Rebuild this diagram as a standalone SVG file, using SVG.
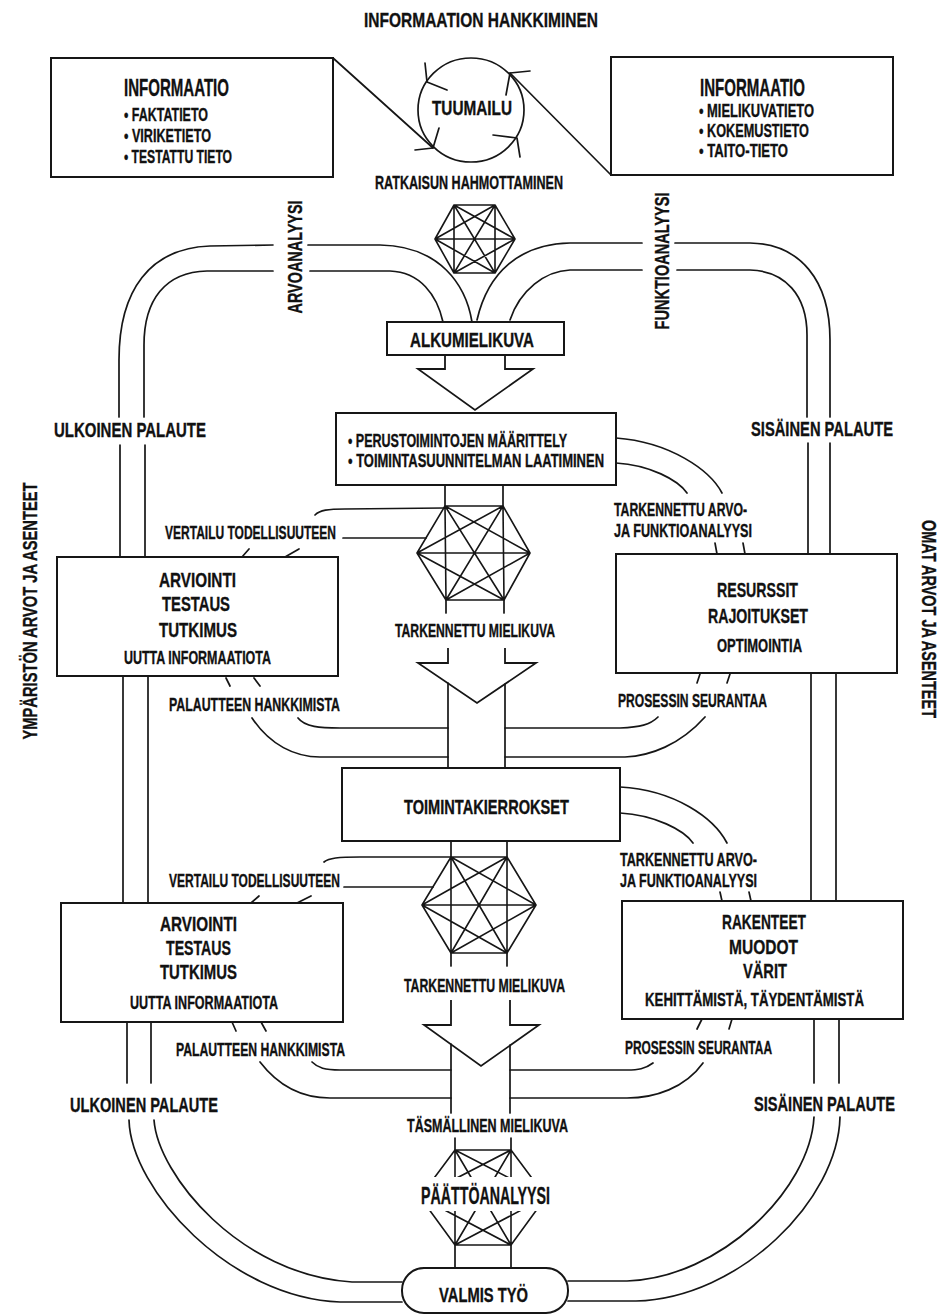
<svg xmlns="http://www.w3.org/2000/svg" width="949" height="1316" viewBox="0 0 949 1316">
<defs>
<style>
.ln{fill:none;stroke:#161616;stroke-width:1.7;stroke-linecap:round;stroke-linejoin:round}
.hx{fill:none;stroke:#161616;stroke-width:1.6;stroke-linejoin:round}
.bx{fill:#fff;stroke:#161616;stroke-width:2}
.ar{fill:#fff;stroke:#161616;stroke-width:1.8;stroke-linejoin:miter}
text{font-family:"Liberation Sans Narrow","Liberation Sans",Arial,sans-serif;font-weight:bold;fill:#111;stroke:#111;stroke-width:0.35}
.s{font-size:18px}
.m{font-size:21px}
.f{font-size:20px}
.k{font-size:21px}
.l{font-size:23px}
</style>
<clipPath id="cut"><rect x="380" y="1140" width="200" height="37"/><rect x="380" y="1211" width="200" height="40"/></clipPath>
</defs>
<rect width="949" height="1316" fill="#fff"/>

<g id="connectors">
  <path class="ln" d="M333 58 L433 148"/>
  <path class="ln" d="M510 73 L611 175"/>
  <path class="ln" d="M308 245 L380 245 C440 246 466 285 472 322"/>
  <path class="ln" d="M310 271 L390 271 C420 272 437 295 443 322"/>
  <path class="ln" d="M273 245 L210 246 C150 248 119 290 119 360 V417"/>
  <path class="ln" d="M273 271 L207 271 C165 272 144 300 144 345 V417"/>
  <path class="ln" d="M120 445 V557 M145 445 V557"/>
  <path class="ln" d="M123 676 V903 M148 676 V903"/>
  <path class="ln" d="M127 1022 V1083 M151 1022 V1083"/>
  <path class="ln" d="M129 1120 C131 1190 230 1298 340 1302 L402 1302"/>
  <path class="ln" d="M154 1120 C158 1175 240 1275 352 1282 L402 1282"/>
  <path class="ln" d="M477 320 C488 272 520 244 570 243 L642 243"/>
  <path class="ln" d="M510 320 C520 290 545 271 570 270 L642 270"/>
  <path class="ln" d="M675 243 L750 243 C800 244 830 280 830 340 V417"/>
  <path class="ln" d="M677 270 L750 270 C785 271 807 295 807 335 V417"/>
  <path class="ln" d="M808 443 V554 M830 443 V554"/>
  <path class="ln" d="M811 673 V900 M836 673 V900"/>
  <path class="ln" d="M814 1019 V1083 M839 1019 V1083"/>
  <path class="ln" d="M840 1117 C838 1200 740 1298 636 1301 L568 1301"/>
  <path class="ln" d="M814 1117 C810 1190 720 1278 627 1281 L568 1281"/>
  <path class="ar" d="M445 355 V369 H418 L475 410 L533 369 H505 V355"/>
  <path class="ln" d="M445 485 V506 M503 485 V506"/>
  <path class="ln" d="M446 600 V613 M504 600 V613"/>
  <path class="ar" d="M448 648 V663 H418 L477 703 L536 663 H505 V648"/>
  <path class="ln" d="M448 683 V768 M505 684 V768"/>
  <path class="ln" d="M451 841 V857 M507 841 V857"/>
  <path class="ln" d="M451 953 V966 M507 953 V966"/>
  <path class="ar" d="M451 1000 V1025 H424 L481 1066 L539 1025 H510 V1000"/>
  <path class="ln" d="M451 1044 V1113 M510 1045 V1113"/>
  <path class="ln" d="M455 1138 V1150 M511 1138 V1150"/>
  <path class="ln" d="M455 1245 V1268 M511 1245 V1268"/>
  <path class="ln" d="M616 438 C670 442 710 470 722 493"/>
  <path class="ln" d="M616 463 C650 465 678 480 687 493"/>
  <path class="ln" d="M620 787 C675 790 714 818 727 843"/>
  <path class="ln" d="M620 813 C655 815 684 830 693 843"/>
  <path class="ln" d="M315 515 C320 510 328 509 345 509 L444 508"/>
  <path class="ln" d="M343 538 L426 538"/>
  <path class="ln" d="M324 862 C329 858 338 857 360 857 L451 857"/>
  <path class="ln" d="M344 887 L433 887"/>
  <path class="ln" d="M298 718 C305 727 320 728 340 728 L448 728"/>
  <path class="ln" d="M252 718 C270 745 295 757 320 757 L448 757"/>
  <path class="ln" d="M658 717 C650 725 640 727 620 728 L505 728"/>
  <path class="ln" d="M705 717 C680 745 650 756 625 757 L505 757"/>
  <path class="ln" d="M312 1062 C318 1068 325 1070 340 1070 L451 1070"/>
  <path class="ln" d="M260 1062 C280 1088 305 1098 330 1098 L451 1098"/>
  <path class="ln" d="M653 1063 C645 1069 638 1070 627 1070 L510 1070"/>
  <path class="ln" d="M703 1063 C685 1088 655 1098 627 1098 L510 1098"/>
  <path class="ln" d="M242 557 L249 549 M285 557 L299 549 M226 678 L230 686 M254 678 L260 686"/>
  <path class="ln" d="M251 903 L259 896 M297 903 L311 896 M232 1022 L236 1031 M261 1022 L266 1031"/>
  <path class="ln" d="M715 543 L717 554 M743 543 L745 554 M700 674 L697 683 M730 674 L727 683"/>
  <path class="ln" d="M720 892 L722 901 M749 892 L751 901 M702 1019 L697 1029 M732 1019 L729 1029"/>
</g>

<g id="title">
  <text class="m" x="364" y="27" textLength="234" lengthAdjust="spacingAndGlyphs">INFORMAATION HANKKIMINEN</text>
</g>

<g id="info-left">
  <rect class="bx" x="51" y="58" width="282" height="119"/>
  <text class="l" x="124" y="96" textLength="105" lengthAdjust="spacingAndGlyphs">INFORMAATIO</text>
  <text class="s" x="124" y="121" textLength="84" lengthAdjust="spacingAndGlyphs">• FAKTATIETO</text>
  <text class="s" x="124" y="142" textLength="87" lengthAdjust="spacingAndGlyphs">• VIRIKETIETO</text>
  <text class="s" x="124" y="163" textLength="108" lengthAdjust="spacingAndGlyphs">• TESTATTU TIETO</text>
</g>

<g id="info-right">
  <rect class="bx" x="611" y="57" width="282" height="118"/>
  <text class="l" x="700" y="96" textLength="105" lengthAdjust="spacingAndGlyphs">INFORMAATIO</text>
  <text class="s" x="699" y="117" textLength="115" lengthAdjust="spacingAndGlyphs">• MIELIKUVATIETO</text>
  <text class="s" x="699" y="137" textLength="110" lengthAdjust="spacingAndGlyphs">• KOKEMUSTIETO</text>
  <text class="s" x="699" y="157" textLength="89" lengthAdjust="spacingAndGlyphs">• TAITO-TIETO</text>
</g>

<g id="tuumailu">
  <ellipse class="ln" cx="471" cy="110" rx="53" ry="52"/>
  <path class="ln" d="M425 63 L427 82 L447 90 M530 71 L510 73 L506 95 M493 135 L517 138 L520 157 M439 128 L433 148 L415 150"/>
  <text class="m" x="432" y="115" textLength="80" lengthAdjust="spacingAndGlyphs">TUUMAILU</text>
</g>

<g id="ratkaisu">
  <text class="s" x="375" y="189" textLength="188" lengthAdjust="spacingAndGlyphs">RATKAISUN HAHMOTTAMINEN</text>
  <path class="hx" d="M454 205 L495 205 L515 239 L495 273 L454 273 L435 239 Z M454 205 L515 239 M454 205 L495 273 M454 205 L454 273 M495 205 L495 273 M495 205 L454 273 M495 205 L435 239 M515 239 L454 273 M515 239 L435 239 M495 273 L435 239"/>
</g>

<g id="analysis-labels">
  <text class="m" transform="translate(294,257) rotate(-90)" x="0" y="7.5" text-anchor="middle" textLength="113" lengthAdjust="spacingAndGlyphs">ARVOANALYYSI</text>
  <text class="m" transform="translate(661,261) rotate(-90)" x="0" y="7.5" text-anchor="middle" textLength="137" lengthAdjust="spacingAndGlyphs">FUNKTIOANALYYSI</text>
</g>

<g id="alkumielikuva">
  <rect class="bx" x="387" y="322" width="177" height="33"/>
  <text class="m" x="410" y="347" textLength="124" lengthAdjust="spacingAndGlyphs">ALKUMIELIKUVA</text>
</g>

<g id="perustoiminnot">
  <rect class="bx" x="336" y="413" width="280" height="72"/>
  <text class="s" x="348" y="447" textLength="219" lengthAdjust="spacingAndGlyphs">• PERUSTOIMINTOJEN MÄÄRITTELY</text>
  <text class="s" x="348" y="467" textLength="256" lengthAdjust="spacingAndGlyphs">• TOIMINTASUUNNITELMAN LAATIMINEN</text>
</g>

<g id="tarkennettu-1">
  <path class="hx" d="M445 506 L503 506 L530 553 L504 600 L446 600 L417 553 Z M445 506 L530 553 M445 506 L504 600 M445 506 L446 600 M503 506 L504 600 M503 506 L446 600 M503 506 L417 553 M530 553 L446 600 M530 553 L417 553 M504 600 L417 553"/>
  <text class="s" x="395" y="637" textLength="160" lengthAdjust="spacingAndGlyphs">TARKENNETTU MIELIKUVA</text>
  <text class="s" x="614" y="516" textLength="133" lengthAdjust="spacingAndGlyphs">TARKENNETTU ARVO-</text>
  <text class="s" x="614" y="537" textLength="138" lengthAdjust="spacingAndGlyphs">JA FUNKTIOANALYYSI</text>
  <text class="s" x="165" y="539" textLength="171" lengthAdjust="spacingAndGlyphs">VERTAILU TODELLISUUTEEN</text>
  <text class="s" x="169" y="711" textLength="171" lengthAdjust="spacingAndGlyphs">PALAUTTEEN HANKKIMISTA</text>
  <text class="s" x="618" y="707" textLength="149" lengthAdjust="spacingAndGlyphs">PROSESSIN SEURANTAA</text>
</g>

<g id="arviointi-1">
  <rect class="bx" x="57" y="557" width="281" height="119"/>
  <text class="k" x="159" y="587" textLength="77" lengthAdjust="spacingAndGlyphs">ARVIOINTI</text>
  <text class="k" x="162" y="611" textLength="68" lengthAdjust="spacingAndGlyphs">TESTAUS</text>
  <text class="k" x="159" y="637" textLength="78" lengthAdjust="spacingAndGlyphs">TUTKIMUS</text>
  <text class="s" x="124" y="664" textLength="147" lengthAdjust="spacingAndGlyphs">UUTTA INFORMAATIOTA</text>
</g>

<g id="resurssit">
  <rect class="bx" x="616" y="554" width="281" height="119"/>
  <text class="k" x="717" y="597" textLength="81" lengthAdjust="spacingAndGlyphs">RESURSSIT</text>
  <text class="k" x="708" y="623" textLength="100" lengthAdjust="spacingAndGlyphs">RAJOITUKSET</text>
  <text class="s" x="717" y="652" textLength="85" lengthAdjust="spacingAndGlyphs">OPTIMOINTIA</text>
</g>

<g id="toimintakierrokset">
  <rect class="bx" x="342" y="768" width="278" height="73"/>
  <text class="m" x="404" y="814" textLength="165" lengthAdjust="spacingAndGlyphs">TOIMINTAKIERROKSET</text>
</g>

<g id="tarkennettu-2">
  <path class="hx" d="M451 857 L507 857 L536 905 L507 953 L451 953 L422 905 Z M451 857 L536 905 M451 857 L507 953 M451 857 L451 953 M507 857 L507 953 M507 857 L451 953 M507 857 L422 905 M536 905 L451 953 M536 905 L422 905 M507 953 L422 905"/>
  <text class="s" x="404" y="992" textLength="161" lengthAdjust="spacingAndGlyphs">TARKENNETTU MIELIKUVA</text>
  <text class="s" x="620" y="866" textLength="137" lengthAdjust="spacingAndGlyphs">TARKENNETTU ARVO-</text>
  <text class="s" x="620" y="887" textLength="137" lengthAdjust="spacingAndGlyphs">JA FUNKTIOANALYYSI</text>
  <text class="s" x="169" y="887" textLength="171" lengthAdjust="spacingAndGlyphs">VERTAILU TODELLISUUTEEN</text>
  <text class="s" x="176" y="1056" textLength="169" lengthAdjust="spacingAndGlyphs">PALAUTTEEN HANKKIMISTA</text>
  <text class="s" x="625" y="1054" textLength="147" lengthAdjust="spacingAndGlyphs">PROSESSIN SEURANTAA</text>
</g>

<g id="arviointi-2">
  <rect class="bx" x="61" y="903" width="282" height="119"/>
  <text class="k" x="160" y="931" textLength="77" lengthAdjust="spacingAndGlyphs">ARVIOINTI</text>
  <text class="k" x="166" y="955" textLength="65" lengthAdjust="spacingAndGlyphs">TESTAUS</text>
  <text class="k" x="160" y="979" textLength="77" lengthAdjust="spacingAndGlyphs">TUTKIMUS</text>
  <text class="s" x="130" y="1009" textLength="148" lengthAdjust="spacingAndGlyphs">UUTTA INFORMAATIOTA</text>
</g>

<g id="rakenteet">
  <rect class="bx" x="622" y="901" width="281" height="118"/>
  <text class="k" x="722" y="929" textLength="84" lengthAdjust="spacingAndGlyphs">RAKENTEET</text>
  <text class="k" x="729" y="954" textLength="69" lengthAdjust="spacingAndGlyphs">MUODOT</text>
  <text class="k" x="743" y="978" textLength="44" lengthAdjust="spacingAndGlyphs">VÄRIT</text>
  <text class="s" x="645" y="1006" textLength="219" lengthAdjust="spacingAndGlyphs">KEHITTÄMISTÄ, TÄYDENTÄMISTÄ</text>
</g>

<g id="feedback-labels">
  <text class="f" x="54" y="437" textLength="152" lengthAdjust="spacingAndGlyphs">ULKOINEN PALAUTE</text>
  <text class="f" x="751" y="436" textLength="142" lengthAdjust="spacingAndGlyphs">SISÄINEN PALAUTE</text>
  <text class="f" x="70" y="1112" textLength="148" lengthAdjust="spacingAndGlyphs">ULKOINEN PALAUTE</text>
  <text class="f" x="754" y="1111" textLength="141" lengthAdjust="spacingAndGlyphs">SISÄINEN PALAUTE</text>
  <text class="m" transform="translate(29,611) rotate(-90)" x="0" y="8" text-anchor="middle" textLength="257" lengthAdjust="spacingAndGlyphs">YMPÄRISTÖN ARVOT JA ASENTEET</text>
  <text class="m" transform="translate(930,619) rotate(90)" x="0" y="8" text-anchor="middle" textLength="198" lengthAdjust="spacingAndGlyphs">OMAT ARVOT JA ASENTEET</text>
</g>

<g id="tasmallinen">
  <text class="s" x="407" y="1132" textLength="161" lengthAdjust="spacingAndGlyphs">TÄSMÄLLINEN MIELIKUVA</text>
</g>

<g id="paattoanalyysi">
  <path class="hx" clip-path="url(#cut)" d="M455 1150 L511 1150 L546 1197 L511 1245 L455 1245 L420 1197 Z M455 1150 L546 1197 M455 1150 L511 1245 M455 1150 L455 1245 M511 1150 L511 1245 M511 1150 L455 1245 M511 1150 L420 1197 M546 1197 L455 1245 M546 1197 L420 1197 M511 1245 L420 1197"/>
  <text class="l" x="421" y="1204" textLength="129" lengthAdjust="spacingAndGlyphs">PÄÄTTÖANALYYSI</text>
</g>

<g id="valmis-tyo">
  <rect class="bx" x="402" y="1268" width="166" height="45" rx="22" ry="22"/>
  <text class="m" x="439" y="1302" textLength="89" lengthAdjust="spacingAndGlyphs">VALMIS TYÖ</text>
</g>
</svg>
